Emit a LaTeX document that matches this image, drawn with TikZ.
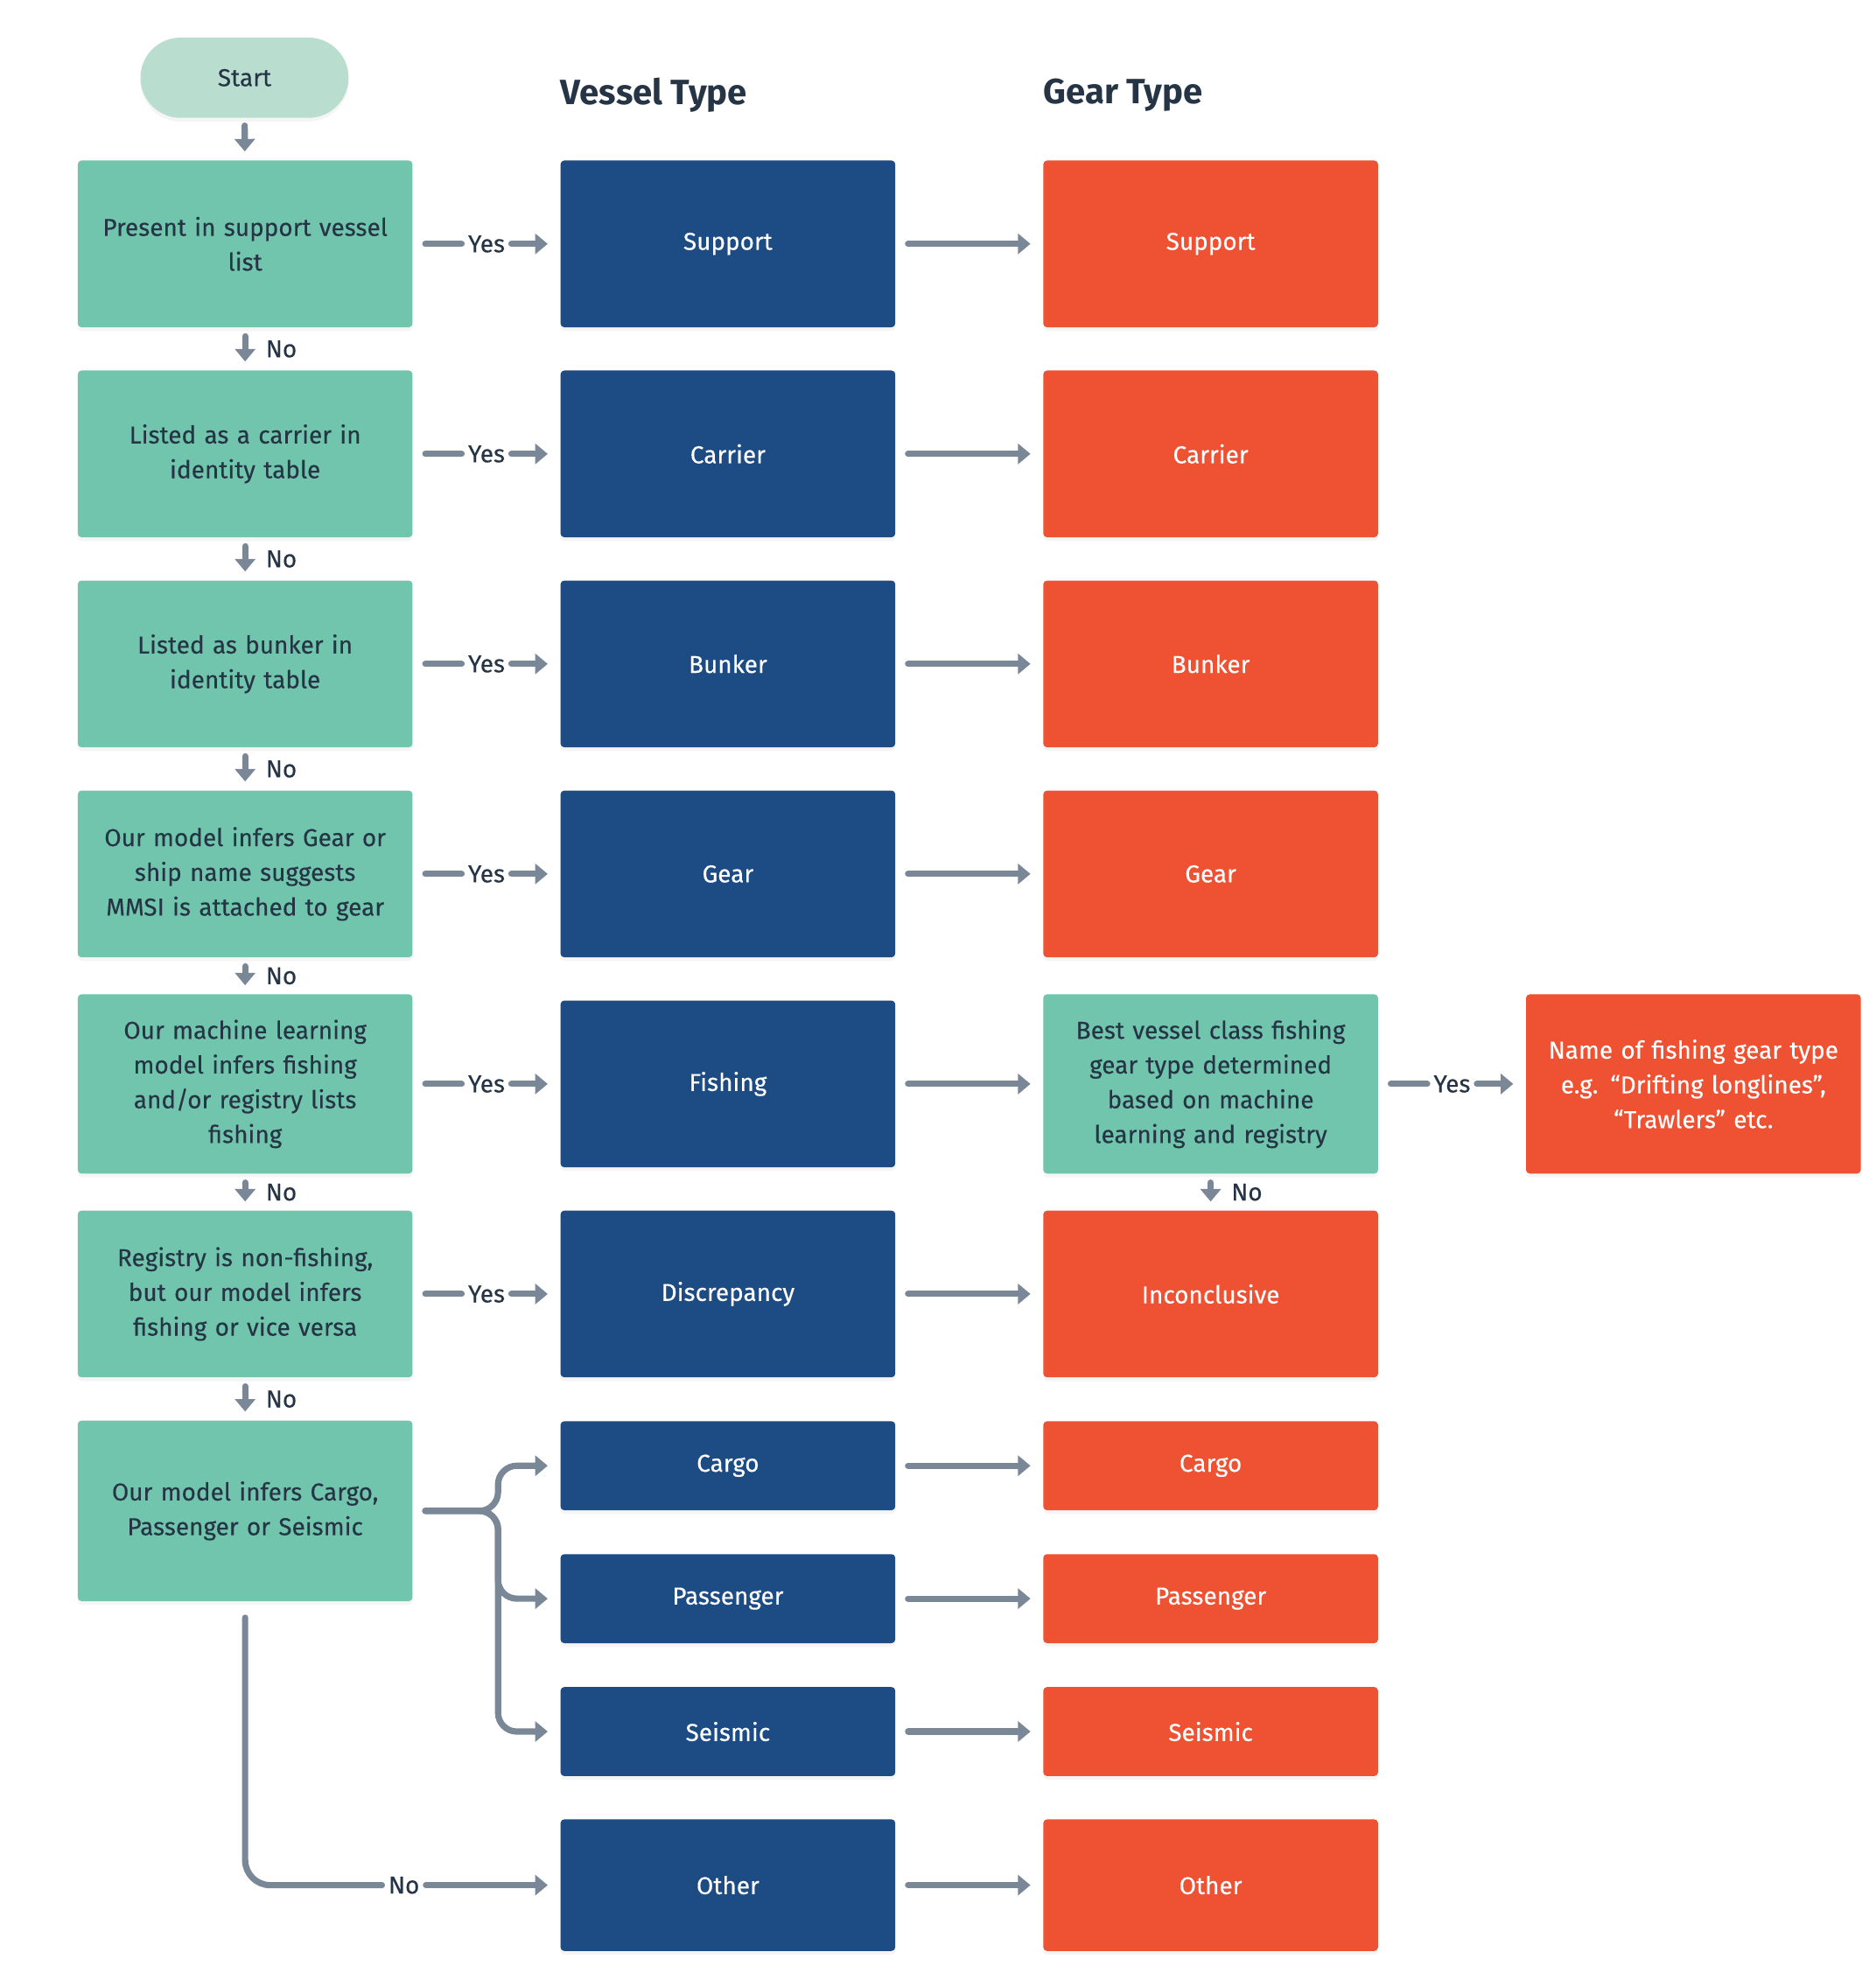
\documentclass[tikz,border=0pt]{standalone}
\usepackage{fontspec}
\setmainfont{Fira Sans}
\newfontfamily\bodyff{Fira Sans}[FakeBold=0.25]
\usetikzlibrary{arrows.meta,shadows}
\definecolor{tealc}{HTML}{72C5AD}
\definecolor{startc}{HTML}{B9DED0}
\definecolor{navyc}{HTML}{1D4B84}
\definecolor{orangec}{HTML}{EF5133}
\definecolor{arrowc}{HTML}{7A8796}
\definecolor{darktext}{HTML}{263545}
\newcommand{\bodyfont}{\bodyff\fontsize{19.5}{27.7}\selectfont}
\begin{document}
\begin{tikzpicture}[x=1pt,y=-1pt,
  shad/.style={drop shadow={opacity=0.08, shadow xshift=0pt, shadow yshift=-3pt}},
  box/.style={rectangle, rounded corners=3pt, minimum width=267pt, text width=267pt,
    inner sep=0pt, align=center, font=\bodyfont, shad},
  decision/.style={box, fill=tealc, text=darktext},
  vessel/.style={box, fill=navyc, text=white},
  gear/.style={box, fill=orangec, text=white},
  link/.style={draw=arrowc, line width=5pt, line cap=round},
  arr/.style={link, -{Triangle[width=16pt,length=10pt]}},
  lbl/.style={inner sep=0pt, font=\bodyfont, text=darktext, text height=13.4pt, text depth=0pt},
  head/.style={anchor=west, inner sep=0pt, font=\fontsize{28}{32}\selectfont\bfseries, text=darktext}
]
\useasboundingbox (0,0) rectangle (1496,1568);

% Start
\node[rectangle, rounded corners=32pt, fill=startc, minimum width=166pt, minimum height=64pt,
  font=\bodyfont, text=darktext, shad] (start) at (195,62) {Start};

% Headings
\node[head] (hv) at (447,76) {Vessel Type};
\node[head] (hg) at (832,76) {Gear Type};

% Column 1: decisions
\node[decision, minimum height=133pt] (g1) at (195.5,194.5) {Present in support vessel\\list};
\node[decision, minimum height=133pt] (g2) at (195.5,362) {Listed as a carrier in\\identity table};
\node[decision, minimum height=133pt] (g3) at (195.5,529.5) {Listed as bunker in\\identity table};
\node[decision, minimum height=133pt] (g4) at (195.5,697) {Our model infers Gear or\\ship name suggests\\MMSI is attached to gear};
\node[decision, minimum height=143pt] (g5) at (195.5,864.5) {Our machine learning\\model infers fishing\\and/or registry lists\\fishing};
\node[decision, minimum height=133pt] (g6) at (195.5,1032) {Registry is non-fishing,\\but our model infers\\fishing or vice versa};
\node[decision, minimum height=144pt] (g7) at (195.5,1205) {Our model infers Cargo,\\Passenger or Seismic};

% Column 2: vessel types
\node[vessel, minimum height=133pt] (v1) at (580.5,194.5) {Support};
\node[vessel, minimum height=133pt] (v2) at (580.5,362) {Carrier};
\node[vessel, minimum height=133pt] (v3) at (580.5,529.5) {Bunker};
\node[vessel, minimum height=133pt] (v4) at (580.5,697) {Gear};
\node[vessel, minimum height=133pt] (v5) at (580.5,864.5) {Fishing};
\node[vessel, minimum height=133pt] (v6) at (580.5,1032) {Discrepancy};
\node[vessel, minimum height=71pt] (vC) at (580.5,1169) {Cargo};
\node[vessel, minimum height=71pt] (vP) at (580.5,1275) {Passenger};
\node[vessel, minimum height=71pt] (vS) at (580.5,1381) {Seismic};
\node[vessel, minimum height=105pt] (vO) at (580.5,1503.5) {Other};

% Column 3: gear types
\node[gear, minimum height=133pt] (o1) at (965.5,194.5) {Support};
\node[gear, minimum height=133pt] (o2) at (965.5,362) {Carrier};
\node[gear, minimum height=133pt] (o3) at (965.5,529.5) {Bunker};
\node[gear, minimum height=133pt] (o4) at (965.5,697) {Gear};
\node[decision, minimum height=143pt] (o5) at (965.5,864.5) {Best vessel class fishing\\gear type determined\\based on machine\\learning and registry};
\node[gear, minimum height=133pt] (o6) at (965.5,1032) {Inconclusive};
\node[gear, minimum height=71pt] (oC) at (965.5,1169) {Cargo};
\node[gear, minimum height=71pt] (oP) at (965.5,1275) {Passenger};
\node[gear, minimum height=71pt] (oS) at (965.5,1381) {Seismic};
\node[gear, minimum height=105pt] (oO) at (965.5,1503.5) {Other};

% Column 4
\node[gear, minimum height=143pt] (f1) at (1350.5,864.5) {Name of fishing gear type\\e.g. “Drifting longlines”,\\“Trawlers” etc.};

% Start arrow
\draw[arr, shorten <=6pt, shorten >=7pt] (start) -- (g1);

% No arrows down column 1
\foreach \a/\b in {g1/g2,g2/g3,g3/g4,g4/g5,g5/g6,g6/g7}{
  \draw[arr, shorten <=7pt, shorten >=7pt] (\a) -- node[lbl, right=14pt] {No} (\b);
}
\draw[arr, shorten <=7pt, shorten >=7pt] (o5) -- node[lbl, right=14pt] {No} (o6);

% Yes arrows
\foreach \i in {1,...,6}{
  \path (g\i) -- node[lbl] (y\i) {Yes} (v\i);
  \draw[link, shorten <=10pt, shorten >=5pt] (g\i) -- (y\i);
  \draw[arr, shorten <=5pt, shorten >=10pt] (y\i) -- (v\i);
}
\path (o5) -- node[lbl] (y7) {Yes} (f1);
\draw[link, shorten <=10pt, shorten >=5pt] (o5) -- (y7);
\draw[arr, shorten <=5pt, shorten >=10pt] (y7) -- (f1);

% Vessel -> gear arrows
\foreach \i in {1,2,3,4,5,6,C,P,S,O}{
  \draw[arr, shorten <=10pt, shorten >=10pt] (v\i) -- (o\i);
}

% Branches from g7
\foreach \t in {vC,vP,vS}{
  \draw[arr, rounded corners=15pt, shorten <=10pt, shorten >=10pt] (g7.east) -- ++(68,0) |- (\t.west);
}

% No branch to Other
\path (g7.south) |- node[lbl, pos=0.752] (nO) {No} (vO.west);
\draw[link, rounded corners=20pt, shorten <=13pt, shorten >=5pt] (g7.south) |- (nO.west);
\draw[arr, shorten <=5pt, shorten >=10pt] (nO) -- (vO);
\end{tikzpicture}
\end{document}
